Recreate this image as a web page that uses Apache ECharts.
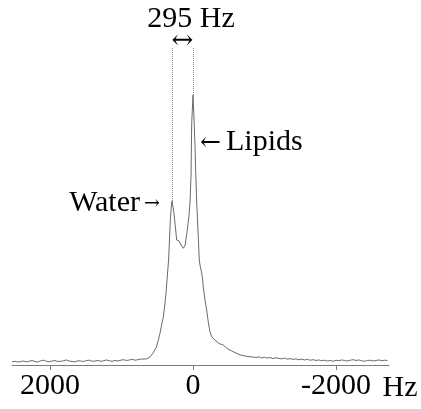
<!DOCTYPE html>
<html>
<head>
<meta charset="utf-8">
<script src="https://cdn.jsdelivr.net/npm/echarts@6/dist/echarts.min.js"></script>
<style>
  html, body { margin: 0; padding: 0; background: #ffffff; }
  #chart { width: 421px; height: 409px; }
</style>
</head>
<body>
<div id="chart"></div>
<script>
// Frequency axis (Hz) runs from high on the left to low on the right.
const axisTicksHz = [2000, 0, -2000];
const waterShiftHz = 295;
const lipidShiftHz = 0;

// Baseline noise left of the signal
const leftBaseHz = [2530, 2490, 2450, 2410, 2370, 2330, 2290, 2250, 2210, 2170, 2130, 2090,
  2050, 2010, 1970, 1930, 1890, 1850, 1810, 1770, 1730, 1690, 1650, 1610, 1570, 1530, 1490,
  1450, 1410, 1370, 1330, 1290, 1250, 1210, 1170, 1130, 1090, 1050, 1010, 970, 930, 890,
  850, 810, 770, 730];
const leftBaseAmp = [-0.3, -0.1, -0.4, -0.2, 0.0, -0.3, -0.1, 0.2, -0.2, -0.4, 0.1, 0.3,
  -0.1, -0.3, 0.0, 0.2, -0.2, -0.1, 0.1, 0.4, 0.0, -0.2, -0.3, 0.1, 0.0, -0.2, 0.2,
  0.3, -0.1, 0.0, 0.2, -0.1, 0.1, 0.4, 0.1, -0.1, 0.2, 0.0, 0.3, 0.5, 0.2, 0.4,
  0.6, 0.3, 0.5, 0.7];

// Water + lipid resonances
const peakHz = [650, 601, 559, 517, 489, 461, 433, 415, 391, 377, 363, 341, 317, 305, 295,
  272, 252, 228, 210, 192, 166, 136, 110, 80, 55, 42, 27, 18, 0, -12, -28, -38, -52, -74,
  -88, -98, -122, -136, -144, -168, -191, -214, -237, -265, -307, -363, -424, -489, -563,
  -657, -727, -797];
const peakAmp = [0.8, 1.5, 3.0, 4.9, 7.5, 10.5, 14.3, 16.5, 21.8, 25.6, 30.5, 38.0, 53.0, 57.5, 60.2,
  56.8, 51.9, 45.5, 45.1, 45.1, 43.6, 42.4, 43.6, 49.2, 54.9, 59.4, 69.9, 89.5, 100, 92.5, 81.2, 71.0, 59.4, 46.6,
  38.0, 36.1, 33.1, 30.5, 27.8, 22.9, 19.2, 14.7, 11.0, 9.0, 7.9, 6.6, 6.0, 4.5, 3.5,
  2.3, 1.9, 1.6];

// Lipid tail and baseline noise right of the signal
const rightBaseHz = [-840, -880, -920, -960, -1000, -1040, -1080, -1120, -1160, -1200, -1240,
  -1280, -1320, -1360, -1400, -1440, -1480, -1520, -1560, -1600, -1640, -1680, -1720, -1760,
  -1800, -1840, -1880, -1920, -1960, -2000, -2040, -2080, -2120, -2160, -2200, -2240, -2280,
  -2320, -2360, -2400, -2440, -2480, -2520, -2560, -2600, -2640, -2680, -2720];
const rightBaseAmp = [1.5, 1.3, 1.6, 1.2, 1.4, 1.1, 1.3, 0.9, 1.2, 1.0, 0.8,
  1.1, 0.7, 0.9, 0.6, 0.8, 0.5, 0.7, 0.4, 0.6, 0.3, 0.5, 0.2, 0.4,
  0.1, 0.3, 0.0, 0.2, -0.1, 0.3, 0.1, 0.4, 0.2, 0.0, 0.3, 0.5, 0.2,
  0.4, 0.1, -0.1, 0.2, 0.3, 0.0, 0.2, 0.4, 0.1, 0.3, 0.2];

const waterPeakAmp = 60.2;
const lipidPeakAmp = 100;
const guideTopAmp = 117.7;

const spectrum = []
  .concat(leftBaseHz.map((f, i) => [f, leftBaseAmp[i]]))
  .concat(peakHz.map((f, i) => [f, peakAmp[i]]))
  .concat(rightBaseHz.map((f, i) => [f, rightBaseAmp[i]]));

const serif = "'Liberation Serif', 'Times New Roman', serif";
const arrowFont = "'DejaVu Serif', serif";
const chart = echarts.init(document.getElementById('chart'), null, { renderer: 'canvas' });

chart.setOption({
  backgroundColor: '#ffffff',
  animation: false,
  grid: { left: 12, right: 32, top: 10, bottom: 44 },
  xAxis: {
    type: 'value',
    inverse: true,
    min: -2741,
    max: 2531,
    axisLine: { show: true, onZero: false, lineStyle: { color: '#7a7a7a', width: 1 } },
    axisTick: { show: true, length: 5, inside: false, customValues: axisTicksHz,
      lineStyle: { color: '#7a7a7a', width: 1 } },
    axisLabel: { customValues: axisTicksHz, fontFamily: serif, fontSize: 30, color: '#000',
      margin: 6, formatter: (v) => String(v) },
    splitLine: { show: false }
  },
  yAxis: { type: 'value', min: -1.5, max: 132, show: false },
  series: [{
    type: 'line',
    data: spectrum,
    showSymbol: false,
    lineStyle: { color: '#6a6a6a', width: 1 },
    markLine: {
      silent: true,
      symbol: ['none', 'none'],
      label: { show: false },
      lineStyle: { type: 'dotted', color: '#8a8a8a', width: 1 },
      data: [
        [{ coord: [waterShiftHz, guideTopAmp] }, { coord: [waterShiftHz, waterPeakAmp] }],
        [{ coord: [lipidShiftHz, guideTopAmp] }, { coord: [lipidShiftHz, lipidPeakAmp] }]
      ]
    }
  }],
  graphic: [
    { type: 'text', x: 191, y: 19, style: { text: '295 Hz', font: '30px ' + serif, fill: '#000',
      textAlign: 'center', textVerticalAlign: 'middle' } },
    { type: 'text', x: 182.5, y: 41, style: { text: '↔', font: '26px ' + arrowFont, fill: '#000',
      textAlign: 'center', textVerticalAlign: 'middle' } },
    { type: 'text', x: 200, y: 143, style: { text: '←', font: '25px ' + arrowFont, fill: '#000',
      textAlign: 'left', textVerticalAlign: 'middle' } },
    { type: 'text', x: 226, y: 142, style: { text: 'Lipids', font: '30px ' + serif, fill: '#000',
      textAlign: 'left', textVerticalAlign: 'middle' } },
    { type: 'text', x: 140, y: 203, style: { text: 'Water', font: '30px ' + serif, fill: '#000',
      textAlign: 'right', textVerticalAlign: 'middle' } },
    { type: 'text', x: 144, y: 204, style: { text: '→', font: '19px ' + arrowFont, fill: '#000',
      textAlign: 'left', textVerticalAlign: 'middle' } },
    { type: 'text', x: 400, y: 388, style: { text: 'Hz', font: '30px ' + serif, fill: '#000',
      textAlign: 'center', textVerticalAlign: 'middle' } }
  ]
});
</script>
</body>
</html>
